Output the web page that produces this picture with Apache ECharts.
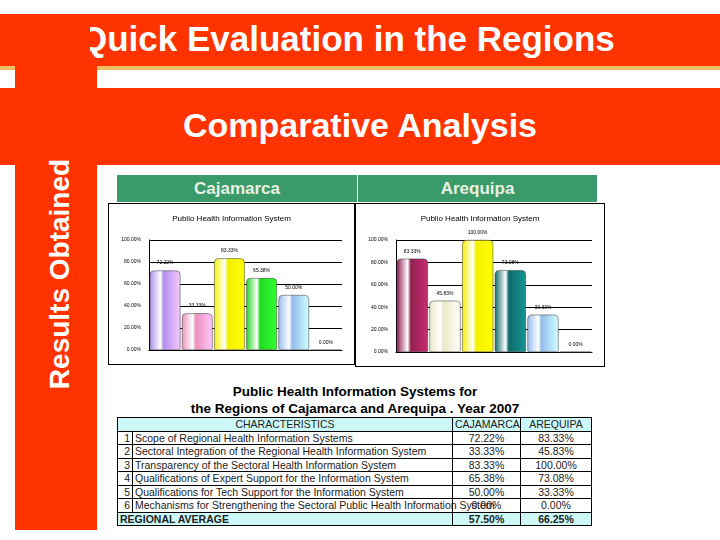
<!DOCTYPE html>
<html><head><meta charset="utf-8">
<script src="https://cdn.jsdelivr.net/npm/echarts@6/dist/echarts.min.js"></script>
<style>
body{margin:0;width:720px;height:540px;position:relative;background:#fff;font-family:"Liberation Sans",Arial,sans-serif;overflow:hidden}
.abs{position:absolute}
table{border-collapse:collapse;font-size:10.5px;color:#222;table-layout:fixed}
td{border:1px solid #000;padding:0 2px;height:12.5px;line-height:12px;overflow:visible}
</style></head><body>
<div class="abs" style="left:0;top:14px;width:720px;height:52px;background:#ff3300"></div>
<div class="abs" style="left:0;top:66px;width:720px;height:4px;background:#f0c060"></div>
<div class="abs" style="left:0;top:88px;width:720px;height:77px;background:#ff3300"></div>
<div class="abs" style="left:15px;top:66px;width:82px;height:464px;background:#ff3300"></div>
<div class="abs" style="left:90px;top:19px;width:630px;color:#fff;font-size:35px;font-weight:bold;text-align:left;white-space:nowrap;overflow:hidden;text-indent:-10px">Quick Evaluation in the Regions</div>
<div class="abs" style="left:97px;top:106px;width:526px;color:#fff;font-size:34px;font-weight:bold;text-align:center">Comparative Analysis</div>
<div class="abs" style="left:-100px;top:258px;width:320px;color:#fff;font-size:28px;font-weight:bold;text-align:center;transform:rotate(-90deg)">Results Obtained</div>
<div class="abs" style="left:117px;top:175px;width:240px;height:27px;background:#3a9a6a;color:#e8f0e0;font-size:17px;font-weight:bold;text-align:center;line-height:27px">Cajamarca</div>
<div class="abs" style="left:358px;top:175px;width:239px;height:27px;background:#3a9a6a;color:#e8f0e0;font-size:17px;font-weight:bold;text-align:center;line-height:27px">Arequipa</div>
<div id="c1" class="abs" style="left:108px;top:203px;width:247px;height:162px;border:1px solid #000;box-sizing:border-box"></div>
<div id="c2" class="abs" style="left:355px;top:203px;width:250px;height:164px;border:1px solid #000;box-sizing:border-box"></div>
<div class="abs" style="left:110px;top:383px;width:490px;text-align:center;font-size:13.5px;font-weight:bold;line-height:17px">Public Health Information Systems for<br>the Regions of Cajamarca and Arequipa . Year 2007</div>
<table id="tb" class="abs" style="left:117px;top:417px;width:474px"></table>
<script>
var categories = ['1','2','3','4','5','6'];
var characteristics = ['Scope of Regional Health Information Systems','Sectoral Integration of the Regional Health Information System','Transparency of the Sectoral Health Information System','Qualifications of Expert Support for the Information System','Qualifications for Tech Support for the Information System','Mechanisms for Strengthening the Sectoral Public Health Information System'];
var cajamarca = [72.22, 33.33, 83.33, 65.38, 50.00, 0.00];
var arequipa = [83.33, 45.83, 100.00, 73.08, 33.33, 0.00];
var average = [57.50, 66.25];
var yTicks = [0, 20, 40, 60, 80, 100];
var colors1 = ['#b090ec', '#ec90bc', '#f4f000', '#22d822', '#94bcec', '#c06060'];
var colors2 = ['#902050', '#ece8c4', '#f4f000', '#106a6a', '#94bcec', '#c06060'];

function grad(c){
  return new echarts.graphic.LinearGradient(0,0,1,0,[{offset:0,color:c},{offset:0.35,color:'#ffffff'},{offset:0.45,color:c},{offset:1,color:echarts.color.lift(c,-0.4)}]);
}
function draw(id, vals, cols){
  var ch = echarts.init(document.getElementById(id));
  ch.setOption({
    animation:false,
    title:{text:'Publio Health Information System',left:'center',top:6,textStyle:{fontSize:8,fontWeight:'normal',color:'#000'}},
    grid:{left:40,right:12,top:36,bottom:14},
    xAxis:{type:'category',data:categories,axisLabel:{show:false},axisTick:{show:false},axisLine:{lineStyle:{color:'#000'}}},
    yAxis:{type:'value',min:yTicks[0],max:yTicks[yTicks.length-1],interval:20,
      axisLabel:{fontSize:5,color:'#000',formatter:function(v){return v.toFixed(2)+'%';}},
      axisLine:{show:true,lineStyle:{color:'#000'}},splitLine:{lineStyle:{color:'#000'}}},
    series:[{type:'bar',barWidth:'95%',
      data:vals.map(function(v,i){return {value:v,itemStyle:{color:grad(cols[i]),borderColor:'#333',borderWidth:0.5,borderRadius:[4,4,1,1]}};}),
      label:{show:true,position:'top',fontSize:5,color:'#000',formatter:function(p){return p.value.toFixed(2)+'%';}}}]
  });
}
draw('c1', cajamarca, colors1);
draw('c2', arequipa, colors2);

var h = '<colgroup><col style="width:15px"><col style="width:320px"><col style="width:68px"><col style="width:71px"></colgroup>';
h += '<tr style="background:#ccf8f8"><td colspan="2" style="text-align:center">CHARACTERISTICS</td><td style="text-align:center">CAJAMARCA</td><td style="text-align:center">AREQUIPA</td></tr>';
for (var i=0;i<characteristics.length;i++){
  h += '<tr><td style="text-align:right">'+categories[i]+'</td><td style="white-space:nowrap">'+characteristics[i]+'</td><td style="text-align:center">'+cajamarca[i].toFixed(2)+'%</td><td style="text-align:center">'+arequipa[i].toFixed(2)+'%</td></tr>';
}
h += '<tr style="background:#ccf8f8;font-weight:bold"><td colspan="2">REGIONAL AVERAGE</td><td style="text-align:center">'+average[0].toFixed(2)+'%</td><td style="text-align:center">'+average[1].toFixed(2)+'%</td></tr>';
document.getElementById('tb').innerHTML = h;
</script>
</body></html>
